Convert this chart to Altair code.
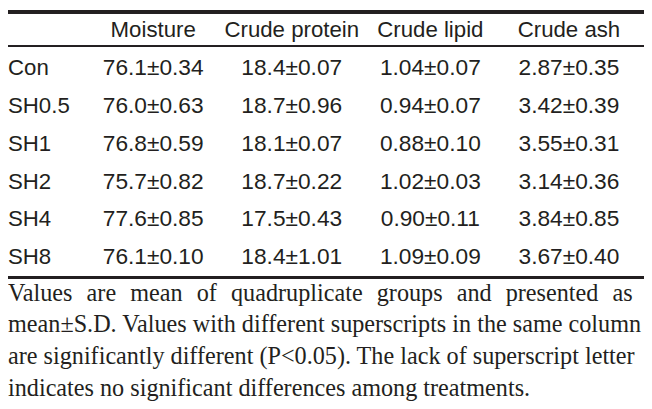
import altair as alt
import pandas as pd

groups = ["Con", "SH0.5", "SH1", "SH2", "SH4", "SH8"]
columns = ["Moisture", "Crude protein", "Crude lipid", "Crude ash"]
moisture = ["76.1±0.34", "76.0±0.63", "76.8±0.59", "75.7±0.82", "77.6±0.85", "76.1±0.10"]
protein = ["18.4±0.07", "18.7±0.96", "18.1±0.07", "18.7±0.22", "17.5±0.43", "18.4±1.01"]
lipid = ["1.04±0.07", "0.94±0.07", "0.88±0.10", "1.02±0.03", "0.90±0.11", "1.09±0.09"]
ash = ["2.87±0.35", "3.42±0.39", "3.55±0.31", "3.14±0.36", "3.84±0.85", "3.67±0.40"]

G = "\u0020\u2004"
footnote = [
    G.join(["Values", "are", "mean", "of", "quadruplicate", "groups", "and", "presented", "as"]),
    "mean±S.D. Values with different superscripts in the same column",
    "are significantly different (P<0.05). The lack of superscript letter",
    "indicates no significant differences among treatments.",
]

row_order = ["__header__"] + groups
ink = "#231f20"

cells = []
for col, vals in zip(columns, [moisture, protein, lipid, ash]):
    cells.append({"row": "__header__", "col": col, "text": col, "kind": "header"})
    for g, v in zip(groups, vals):
        cells.append({"row": g, "col": col, "text": v, "kind": "value"})
cells_df = pd.DataFrame(cells)
labels_df = pd.DataFrame({"row": groups, "text": groups})
foot_df = pd.DataFrame({"line": list(range(len(footnote))), "text": footnote})

yscale = alt.Scale(domain=row_order, range=[20, 250], type="point", padding=0)
xscale = alt.Scale(domain=columns, range=[147, 568], type="point", padding=0)

header = alt.Chart(cells_df).transform_filter(alt.datum.kind == "header").mark_text(
    font="Liberation Sans", fontSize=22.5, color=ink, align="center", baseline="middle"
).encode(
    x=alt.X("col:N", scale=xscale, axis=None),
    y=alt.Y("row:N", scale=yscale, axis=None),
    text="text:N",
)

values = alt.Chart(cells_df).transform_filter(alt.datum.kind == "value").mark_text(
    font="Liberation Sans", fontSize=23, color=ink, align="center", baseline="middle"
).encode(
    x=alt.X("col:N", scale=xscale, axis=None),
    y=alt.Y("row:N", scale=yscale, axis=None),
    text="text:N",
)

labels = alt.Chart(labels_df).mark_text(
    font="Liberation Sans", fontSize=22.5, color=ink, align="left", baseline="middle"
).encode(
    x=alt.value(0),
    y=alt.Y("row:N", scale=yscale, axis=None),
    text="text:N",
)

foot = alt.Chart(foot_df).mark_text(
    font="Liberation Serif", fontSize=24.5, color=ink, align="left", baseline="alphabetic"
).encode(
    x=alt.value(0),
    y=alt.Y("line:O", scale=alt.Scale(range=[294, 390], type="point", padding=0), axis=None),
    text="text:N",
)

top_rule = alt.Chart(labels_df).mark_rule(color=ink, strokeWidth=3.5).encode(
    x=alt.value(0), x2=alt.value(644), y=alt.value(1.2)
)
mid_rule = alt.Chart(labels_df).mark_rule(color=ink, strokeWidth=1.2).encode(
    x=alt.value(0), x2=alt.value(644), y=alt.value(36)
)
bot_rule = alt.Chart(labels_df).mark_rule(color=ink, strokeWidth=3).encode(
    x=alt.value(0), x2=alt.value(644), y=alt.value(270.5)
)

chart = alt.layer(
    top_rule, mid_rule, bot_rule, header, values, labels, foot
).resolve_scale(y="independent", x="independent").properties(
    width=644, height=401, padding=0, autosize="none"
).configure_view(stroke=None)

chart.save("out.html", embed_options={"renderer": "svg", "actions": False})
